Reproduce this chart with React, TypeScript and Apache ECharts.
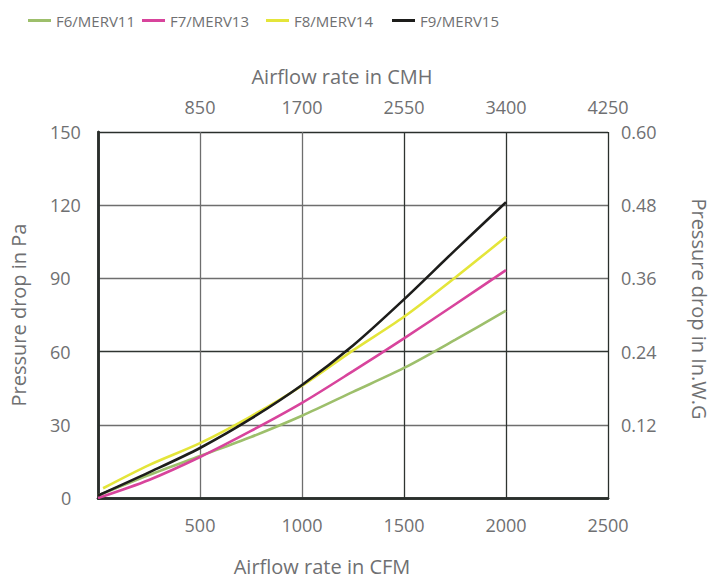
import React, { useEffect, useRef } from "react";
import * as echarts from "echarts";

const seriesNames = ["F6/MERV11", "F7/MERV13", "F8/MERV14", "F9/MERV15"];
const seriesColors = ["#9dbf6b", "#d8449c", "#e4e53a", "#1d1d1b"];

const f6: [number, number][] = [
  [0, 1], [250, 9.4], [500, 17.2], [750, 25], [1000, 33.7], [1250, 43.5], [1500, 53.3], [1750, 64.8], [2000, 76.8],
];
const f7: [number, number][] = [
  [0, 0], [250, 7.4], [500, 16.8], [750, 27.5], [1000, 39], [1250, 52], [1500, 65.4], [1750, 79.3], [2000, 93.4],
];
const f8: [number, number][] = [
  [25, 4], [250, 13.5], [500, 22.5], [750, 33.5], [1000, 46], [1250, 60.5], [1500, 74.3], [1750, 90.3], [2000, 107.1],
];
const f9: [number, number][] = [
  [0, 1], [250, 10.5], [500, 20.5], [750, 32.5], [1000, 46.3], [1250, 62.5], [1500, 81.4], [1750, 101.5], [2000, 121.2],
];
const seriesData = [f6, f7, f8, f9];

const cfmAxis = { min: 0, max: 2500, interval: 500 };
const cmhAxis = { min: 0, max: 4250, interval: 850 };
const paAxis = { min: 0, max: 150, interval: 30 };
const inwgAxis = { min: 0, max: 0.6, interval: 0.12 };

const legendLefts = [23, 137, 261, 387];

const FONT = "'Open Sans', 'Noto Sans', sans-serif";
const TEXT = "#6f7072";
const BORDER = "#2a2f2c";
const GRID_GREY = "#6e6e6e";

export default function App() {
  const ref = useRef<HTMLDivElement>(null);
  useEffect(() => {
    if (!ref.current) return;
    const chart = echarts.init(ref.current, undefined, { renderer: "svg" });
    const axisLine = { show: true, lineStyle: { color: BORDER, width: 2.5 } };
    const plain = (v: number) => String(v);
    const option = {
      animation: false,
      backgroundColor: "#ffffff",
      textStyle: { fontFamily: FONT },
      legend: seriesNames.map((name, i) => ({
        data: [name],
        left: legendLefts[i],
        top: 8,
        icon: "rect",
        itemWidth: 23,
        itemHeight: 3,
        itemGap: 0,
        itemStyle: { color: seriesColors[i] },
        textStyle: { color: TEXT, fontSize: 15, fontFamily: FONT },
        selectedMode: false,
      })),
      grid: { left: 97, right: 108, top: 132, bottom: 84, containLabel: false },
      xAxis: [
        {
          type: "value",
          position: "bottom",
          ...cfmAxis,
          name: "Airflow rate in CFM",
          nameLocation: "middle",
          nameGap: 58,
          nameTextStyle: { color: TEXT, fontSize: 20, padding: [0, 62, 0, 0] },
          axisLine,
          axisTick: { show: false },
          axisLabel: { color: TEXT, fontSize: 18, margin: 18, showMinLabel: false, formatter: plain },
          splitLine: {
            show: true,
            lineStyle: { color: [BORDER, GRID_GREY, GRID_GREY, "#2f3431", "#2f3431", BORDER], width: 1.3 },
          },
        },
        {
          type: "value",
          position: "top",
          ...cmhAxis,
          name: "Airflow rate in CMH",
          nameLocation: "middle",
          nameGap: 46,
          nameTextStyle: { color: TEXT, fontSize: 20, padding: [0, 22, 0, 0] },
          axisLine,
          axisTick: { show: false },
          axisLabel: { color: TEXT, fontSize: 18, margin: 16, showMinLabel: false, formatter: plain },
          splitLine: { show: false },
        },
      ],
      yAxis: [
        {
          type: "value",
          position: "left",
          ...paAxis,
          name: "Pressure drop in Pa",
          nameLocation: "middle",
          nameGap: 70,
          nameTextStyle: { color: TEXT, fontSize: 20 },
          axisLine,
          axisTick: { show: false },
          axisLabel: {
            color: TEXT,
            fontSize: 18,
            margin: 48,
            align: "left",
            formatter: (v: number) => (v === 0 ? "{z|0}" : String(v)),
            rich: { z: { color: TEXT, fontSize: 18, padding: [0, 0, 0, 11] } },
          },
          splitLine: {
            show: true,
            lineStyle: { color: [BORDER, GRID_GREY, "#2f3431", GRID_GREY, GRID_GREY, BORDER], width: 1.3 },
          },
        },
        {
          type: "value",
          position: "right",
          ...inwgAxis,
          name: "Pressure drop in In.W.G",
          nameLocation: "middle",
          nameGap: 81,
          nameRotate: -90,
          nameTextStyle: { color: TEXT, fontSize: 20, padding: [0, 12, 0, 0] },
          axisLine,
          axisTick: { show: false },
          axisLabel: {
            color: TEXT,
            fontSize: 18,
            margin: 13,
            showMinLabel: false,
            formatter: (v: number) => v.toFixed(2),
          },
          splitLine: { show: false },
        },
      ],
      series: seriesNames.map((name, i) => ({
        name,
        type: "line",
        xAxisIndex: 0,
        yAxisIndex: 0,
        data: seriesData[i],
        smooth: 0.3,
        showSymbol: false,
        symbol: "none",
        color: seriesColors[i],
        lineStyle: { color: seriesColors[i], width: 2.6 },
        z: 3 + i,
      })),
    };
    chart.setOption(option as any);
    return () => chart.dispose();
  }, []);
  return (
    <div
      ref={ref}
      style={{ position: "fixed", left: 0, top: 0, width: 717, height: 582, background: "#fff" }}
    />
  );
}
